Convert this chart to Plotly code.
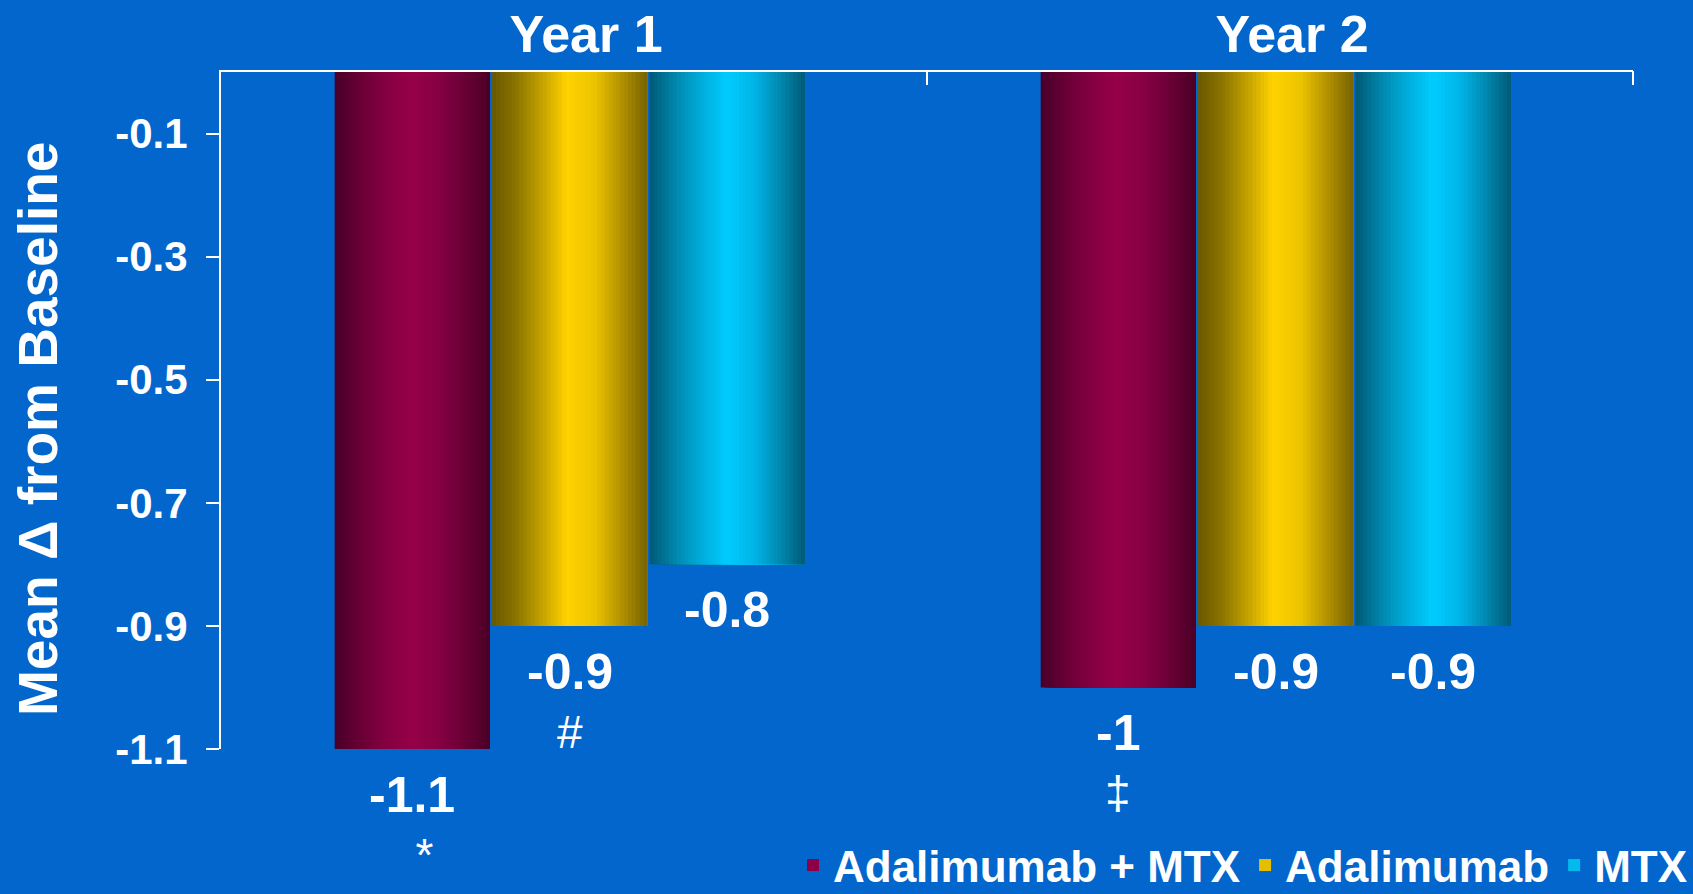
import plotly.graph_objects as go

# ---------------- data ----------------
categories = ["Year 1", "Year 2"]
series_names = ["Adalimumab + MTX", "Adalimumab", "MTX"]
adalimumab_mtx = [-1.1, -1.0]
adalimumab = [-0.9, -0.9]
mtx = [-0.8, -0.9]
footnote_adalimumab_mtx = ["\u00a0\u00a0*", "\u2021"]
footnote_adalimumab = ["#", ""]
footnote_mtx = ["", ""]
y_tick_values = [-0.1, -0.3, -0.5, -0.7, -0.9, -1.1]
y_tick_labels = ["-0.1", "-0.3", "-0.5", "-0.7", "-0.9", "-1.1"]
y_title = "Mean \u0394 from Baseline"

series_values = [adalimumab_mtx, adalimumab, mtx]
series_footnotes = [footnote_adalimumab_mtx, footnote_adalimumab, footnote_mtx]

# ---------------- style ----------------
BG = "#0366cc"
FONT = "Arial, 'Liberation Sans', sans-serif"
gradients = [
    [(0.0, "#48002a"), (0.15, "#660033"), (0.32, "#830041"), (0.48, "#960048"),
     (0.66, "#880044"), (0.82, "#6c0036"), (1.0, "#4a0027")],
    [(0.0, "#6a5900"), (0.15, "#8a7300"), (0.32, "#c4a200"), (0.48, "#ffd200"),
     (0.66, "#ecc400"), (0.82, "#b79500"), (1.0, "#776200")],
    [(0.0, "#005874"), (0.15, "#0083a8"), (0.32, "#00aad8"), (0.50, "#00ccff"),
     (0.68, "#00b4e6"), (0.84, "#0088b0"), (1.0, "#005a76")],
]
legend_stripe_pos = 0.40

BAR_W = 0.22      # bar width in category units
BAR_GAP = 0.003   # gap between neighbouring bars
GROUP_SHIFT = -0.006
N_STRIPES = 40


def hex2rgb(h):
    h = h.lstrip("#")
    return tuple(int(h[i:i + 2], 16) for i in (0, 2, 4))


def interp(stops, p):
    for (p0, c0), (p1, c1) in zip(stops[:-1], stops[1:]):
        if p0 <= p <= p1:
            t = (p - p0) / (p1 - p0) if p1 > p0 else 0
            a, b = hex2rgb(c0), hex2rgb(c1)
            return "rgb(%d,%d,%d)" % tuple(round(a[k] + (b[k] - a[k]) * t) for k in range(3))
    return stops[-1][1]


def bar_left(j):
    return GROUP_SHIFT + (j - 1.5) * BAR_W + (j - 1) * BAR_GAP


fig = go.Figure()
legend_stripe = int(legend_stripe_pos * N_STRIPES)
for j, (name, vals) in enumerate(zip(series_names, series_values)):
    left = bar_left(j)
    for i in range(N_STRIPES):
        p = (i + 0.5) / N_STRIPES
        is_legend = i == legend_stripe
        fig.add_trace(go.Bar(
            x=categories, y=vals, name=name,
            width=BAR_W * (1 - i / N_STRIPES),
            offset=left + BAR_W * i / N_STRIPES,
            marker=dict(color=interp(gradients[j], p), line=dict(width=0)),
            showlegend=is_legend, legendrank=j + 1,
            legendgroup=name, hoverinfo="skip",
        ))

annotations = []
for j, (vals, notes) in enumerate(zip(series_values, series_footnotes)):
    center = bar_left(j) + BAR_W / 2
    for ci, (v, note) in enumerate(zip(vals, notes)):
        annotations.append(dict(
            x=ci + center, y=v, xref="x", yref="y", text=f"{v:g}",
            showarrow=False, yshift=-46, xanchor="center", yanchor="middle",
            borderpad=0,
            font=dict(family=FONT, size=50, color="white", weight="bold"),
        ))
        if note:
            annotations.append(dict(
                x=ci + center, y=v, xref="x", yref="y", text=note,
                showarrow=False, yshift=-106, xanchor="center", yanchor="middle",
                borderpad=0,
                font=dict(family=FONT, size=46, color="white"),
            ))

# y-axis title (placed slightly below the plot centre, as in the original)
annotations.append(dict(
    text=y_title, xref="paper", yref="paper", x=-0.1296, y=0.4727,
    xanchor="center", yanchor="middle", textangle=-90, showarrow=False,
    font=dict(family=FONT, size=55, color="white", weight="bold"),
))

# closing tick at the right end of the top axis
shapes = [dict(
    type="line", xref="paper", x0=1, x1=1,
    yref="paper", ysizemode="pixel", yanchor=1, y0=1, y1=-13,
    line=dict(color="white", width=2),
)]

fig.update_layout(
    width=1693, height=894, autosize=False,
    margin=dict(l=221, r=60, t=72, b=145, autoexpand=False),
    paper_bgcolor=BG, plot_bgcolor=BG,
    barmode="overlay",
    font=dict(family=FONT, color="white"),
    annotations=annotations,
    shapes=shapes,
    legend=dict(
        orientation="h", xref="container", yref="paper",
        x=1.0, xanchor="right", y=-0.172, yanchor="middle",
        font=dict(family=FONT, size=44, color="white", weight="bold"),
        bgcolor="rgba(0,0,0,0)", traceorder="normal",
        itemclick=False, itemdoubleclick=False,
    ),
    xaxis=dict(
        type="category", side="top", range=[-0.5, 1.5],
        showline=True, linecolor="white", linewidth=2,
        ticks="inside", tickson="boundaries", ticklen=13,
        tickcolor="white", tickwidth=2,
        showgrid=False, zeroline=False, automargin=False,
        tickfont=dict(family=FONT, size=52, color="white", weight="bold"),
        ticklabelshift=12, ticklabelstandoff=-3,
    ),
    yaxis=dict(
        range=[-1.1, 0], autorange=False,
        showline=True, linecolor="white", linewidth=2,
        ticks="outside", ticklen=13, tickcolor="white", tickwidth=2,
        tickvals=y_tick_values, ticktext=y_tick_labels,
        showgrid=False, zeroline=False, automargin=False,
        ticklabelstandoff=10,
        tickfont=dict(family=FONT, size=42, color="white", weight="bold"),
    ),
)

fig.write_html("out.html")
